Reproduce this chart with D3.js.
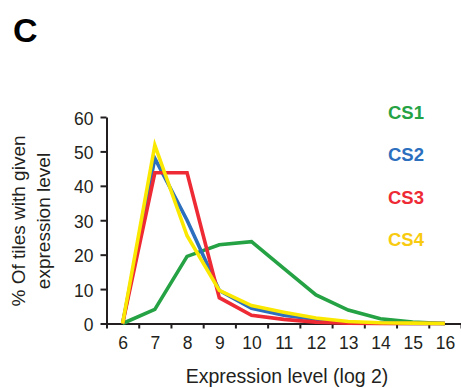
<!DOCTYPE html>
<html>
<head>
<meta charset="utf-8">
<script src="https://cdn.jsdelivr.net/npm/d3@7"></script>
<style>
	body { margin: 0; background: #fff; }
	svg { display: block; font-family: "Liberation Sans", Arial, sans-serif; }
	.axis path, .axis line { stroke: #231f20; stroke-width: 2; }
	.axis text { fill: #231f20; font-size: 17.5px; }
</style>
</head>
<body>
<svg id="chart" width="461" height="388"></svg>
<script>
// expression level bins (log 2)
const levels = [6, 7, 8, 9, 10, 11, 12, 13, 14, 15, 16];
const yTicks = [0, 10, 20, 30, 40, 50, 60];

// % of tiles per bin
const cs1 = [0, 4.1, 19.5, 22.9, 23.8, 16, 8.3, 3.9, 1.4, 0.4, 0];
const cs2 = [0, 48, 30, 9.6, 4.4, 2.4, 1.2, 0.3, 0.1, 0, 0];
const cs3 = [0, 43.8, 43.8, 7.5, 2.4, 1.2, 0.4, 0.1, 0, 0, 0];
const cs4 = [0, 51.8, 25.5, 9.6, 5.2, 3.3, 1.6, 0.6, 0.2, 0.1, 0];

const seriesNames = ["CS1", "CS2", "CS3", "CS4"];
const seriesValues = [cs1, cs2, cs3, cs4];
const lineColors = ["#25a244", "#2b6fbe", "#ee2a35", "#fbe800"];
const labelColors = ["#25a244", "#2b6fbe", "#ee2a35", "#f8cb10"];

const svg = d3.select("svg#chart");
const bounds = { minX: 106.5, maxX: 461, minY: 117, maxY: 323.5 };

// each level sits in the middle of a unit-wide bin; ticks mark bin edges
const scaleX = d3.scaleLinear()
	.domain([levels[0] - 0.5, levels[levels.length - 1] + 0.5])
	.range([bounds.minX, bounds.maxX]);
const scaleY = d3.scaleLinear().domain([0, 60]).range([bounds.maxY, bounds.minY]);

// panel letter
svg.append("text")
	.attr("x", 13).attr("y", 42)
	.attr("font-size", 34).attr("font-weight", "bold")
	.attr("fill", "#000")
	.text("C");

// x axis: edge ticks, then centred labels
const edges = d3.range(levels[0] - 0.5, levels[levels.length - 1] + 1, 1);
svg.append("g")
	.attr("class", "axis")
	.attr("transform", `translate(0 ${bounds.maxY})`)
	.call(d3.axisBottom(scaleX).tickValues(edges).tickSize(5).tickSizeOuter(0).tickFormat(""));
const xLabels = svg.append("g")
	.attr("class", "axis")
	.attr("transform", `translate(0 ${bounds.maxY})`)
	.call(d3.axisBottom(scaleX).tickValues(levels).tickSize(0).tickPadding(13).tickFormat(d3.format("d")));
xLabels.select("path.domain").remove();
xLabels.selectAll("text").attr("font-size", 18.5);

// y axis
const yAxisG = svg.append("g")
	.attr("class", "axis")
	.attr("transform", `translate(${bounds.minX} 0)`)
	.call(d3.axisLeft(scaleY).tickValues(yTicks).tickSize(6).tickSizeOuter(0).tickPadding(7));
yAxisG.selectAll("text").attr("dy", "0.4em");

// axis titles
svg.append("text")
	.attr("x", 287).attr("y", 383)
	.attr("text-anchor", "middle")
	.attr("font-size", 19.5)
	.attr("fill", "#231f20")
	.text("Expression level (log 2)");

const yTitle = svg.append("text")
	.attr("transform", "translate(25 221) rotate(-90)")
	.attr("text-anchor", "middle")
	.attr("font-size", 19)
	.attr("fill", "#231f20");
yTitle.append("tspan").attr("x", 0).attr("y", 0).text("% Of tiles with given");
yTitle.append("tspan").attr("x", 0).attr("y", 24.5).text("expression level");

// lines
const line = d3.line()
	.x((_, i) => scaleX(levels[i]))
	.y(d => scaleY(d));

svg.append("g")
	.selectAll("path")
	.data(seriesValues)
	.join("path")
	.attr("fill", "none")
	.attr("stroke", (_, i) => lineColors[i])
	.attr("stroke-width", 3.6)
	.attr("d", d => line(d));

// legend
svg.append("g")
	.selectAll("text")
	.data(seriesNames)
	.join("text")
	.attr("x", 388)
	.attr("y", (_, i) => 119 + i * 42.3)
	.attr("font-size", 18.5)
	.attr("font-weight", "bold")
	.attr("fill", (_, i) => labelColors[i])
	.text(d => d);
</script>
</body>
</html>
